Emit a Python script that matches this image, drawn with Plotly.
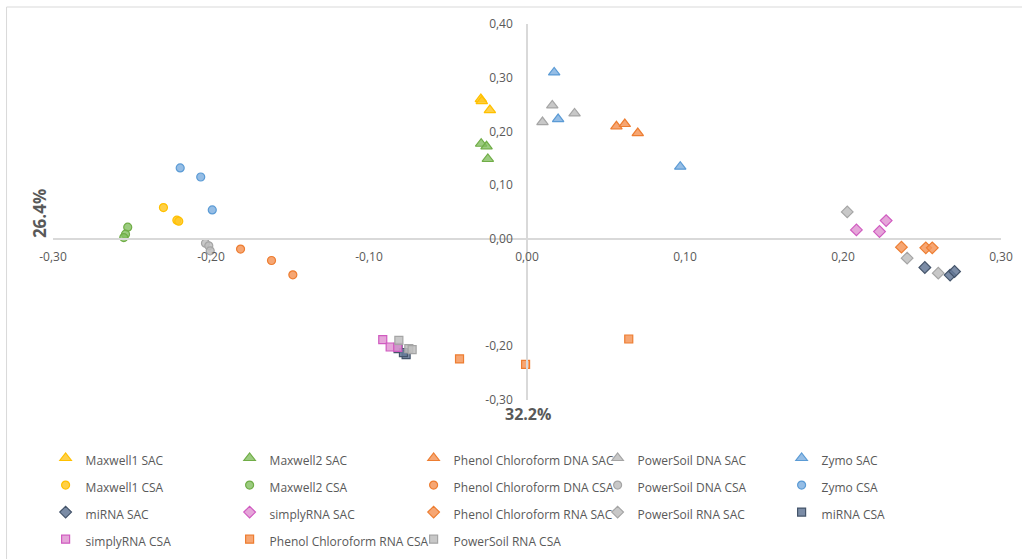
import plotly.graph_objects as go

# PCA scores (PC1, PC2) per extraction kit / sample type
series_names = [
    "Maxwell1 SAC", "Maxwell2 SAC", "Phenol Chloroform DNA SAC", "PowerSoil DNA SAC", "Zymo SAC",
    "Maxwell1 CSA", "Maxwell2 CSA", "Phenol Chloroform DNA CSA", "PowerSoil DNA CSA", "Zymo CSA",
    "miRNA SAC", "simplyRNA SAC", "Phenol Chloroform RNA SAC", "PowerSoil RNA SAC", "miRNA CSA",
    "simplyRNA CSA", "Phenol Chloroform RNA CSA", "PowerSoil RNA CSA",
]

maxwell1_sac_x = [-0.0292, -0.0286, -0.0235]
maxwell1_sac_y = [0.2602, 0.2565, 0.2398]
maxwell2_sac_x = [-0.0290, -0.0256, -0.0248]
maxwell2_sac_y = [0.1771, 0.1723, 0.1487]
pc_dna_sac_x = [0.0566, 0.0619, 0.0701]
pc_dna_sac_y = [0.2095, 0.2138, 0.1970]
powersoil_dna_sac_x = [0.0160, 0.0098, 0.0301]
powersoil_dna_sac_y = [0.2485, 0.2175, 0.2336]
zymo_sac_x = [0.0172, 0.0197, 0.0970]
zymo_sac_y = [0.3098, 0.2230, 0.1344]

maxwell1_csa_x = [-0.2301, -0.2216, -0.2204]
maxwell1_csa_y = [0.0582, 0.0348, 0.0329]
maxwell2_csa_x = [-0.2527, -0.2541, -0.2552]
maxwell2_csa_y = [0.0217, 0.0087, 0.0024]
pc_dna_csa_x = [-0.1813, -0.1617, -0.1482]
pc_dna_csa_y = [-0.0191, -0.0403, -0.0669]
powersoil_dna_csa_x = [-0.2035, -0.2014, -0.2005]
powersoil_dna_csa_y = [-0.0080, -0.0130, -0.0223]
zymo_csa_x = [-0.2195, -0.2065, -0.1992]
zymo_csa_y = [0.1320, 0.1152, 0.0539]

mirna_sac_x = [0.2518, 0.2678, 0.2706]
mirna_sac_y = [-0.0533, -0.0675, -0.0608]
simplyrna_sac_x = [0.2085, 0.2273, 0.2231]
simplyrna_sac_y = [0.0167, 0.0340, 0.0136]
pc_rna_sac_x = [0.2370, 0.2524, 0.2565]
pc_rna_sac_y = [-0.0154, -0.0167, -0.0167]
powersoil_rna_sac_x = [0.2027, 0.2406, 0.2603]
powersoil_rna_sac_y = [0.0502, -0.0359, -0.0638]
mirna_csa_x = [-0.0816, -0.0765, -0.0782]
mirna_csa_y = [-0.2045, -0.2156, -0.2119]

simplyrna_csa_x = [-0.0913, -0.0866, -0.0818]
simplyrna_csa_y = [-0.1877, -0.2013, -0.2020]
pc_rna_csa_x = [-0.0427, -0.0009, 0.0644]
pc_rna_csa_y = [-0.2236, -0.2336, -0.1864]
powersoil_rna_csa_x = [-0.0811, -0.0748, -0.0727]
powersoil_rna_csa_y = [-0.1890, -0.2045, -0.2063]

x_tick_vals = [-0.3, -0.2, -0.1, 0.0, 0.1, 0.2, 0.3]
x_tick_text = ["-0,30", "-0,20", "-0,10", "0,00", "0,10", "0,20", "0,30"]
y_tick_vals = [-0.3, -0.2, 0.0, 0.1, 0.2, 0.3, 0.4]
y_tick_text = ["-0,30", "-0,20", "0,00", "0,10", "0,20", "0,30", "0,40"]

x_label = "32.2%"
y_label = "26.4%"

# kit colours (line, fill)
YELLOW = ("#FFC000", "rgba(255,200,40,0.85)")
GREEN = ("#70AD47", "rgba(130,190,95,0.8)")
ORANGE = ("#ED7D31", "rgba(244,150,90,0.85)")
GRAY = ("#A5A5A5", "rgba(190,190,190,0.85)")
BLUE = ("#5B9BD5", "rgba(130,178,225,0.85)")
NAVY = ("#44546A", "rgba(100,120,150,0.85)")
PINK = ("#D05BC0", "rgba(225,150,210,0.85)")

series = [
    (maxwell1_sac_x, maxwell1_sac_y, YELLOW, "triangle-up", 10),
    (maxwell2_sac_x, maxwell2_sac_y, GREEN, "triangle-up", 10),
    (pc_dna_sac_x, pc_dna_sac_y, ORANGE, "triangle-up", 10),
    (powersoil_dna_sac_x, powersoil_dna_sac_y, GRAY, "triangle-up", 10),
    (zymo_sac_x, zymo_sac_y, BLUE, "triangle-up", 10),
    (maxwell1_csa_x, maxwell1_csa_y, YELLOW, "circle", 8),
    (maxwell2_csa_x, maxwell2_csa_y, GREEN, "circle", 8),
    (pc_dna_csa_x, pc_dna_csa_y, ORANGE, "circle", 8),
    (powersoil_dna_csa_x, powersoil_dna_csa_y, GRAY, "circle", 8),
    (zymo_csa_x, zymo_csa_y, BLUE, "circle", 8),
    (mirna_sac_x, mirna_sac_y, NAVY, "diamond", 9),
    (simplyrna_sac_x, simplyrna_sac_y, PINK, "diamond", 9),
    (pc_rna_sac_x, pc_rna_sac_y, ORANGE, "diamond", 9),
    (powersoil_rna_sac_x, powersoil_rna_sac_y, GRAY, "diamond", 9),
    (mirna_csa_x, mirna_csa_y, NAVY, "square", 8),
    (simplyrna_csa_x, simplyrna_csa_y, PINK, "square", 8),
    (pc_rna_csa_x, pc_rna_csa_y, ORANGE, "square", 8),
    (powersoil_rna_csa_x, powersoil_rna_csa_y, GRAY, "square", 8),
]

TEXT = "#595959"
AXIS = "#D9D9D9"
FONT = "Open Sans"

fig = go.Figure()
for name, (xs, ys, (line_c, fill_c), symbol, size) in zip(series_names, series):
    fig.add_trace(go.Scatter(
        x=xs, y=ys, mode="markers",
        name=f"<span style='font-size:12px'>{name}</span>",
        marker=dict(symbol=symbol, size=size, color=fill_c,
                    line=dict(color=line_c, width=1.2)),
    ))

fig.update_layout(
    width=1022, height=559,
    margin=dict(l=53, r=21, t=24, b=159, autoexpand=False),
    paper_bgcolor="white", plot_bgcolor="white",
    font=dict(family=FONT, color=TEXT, size=12),
    showlegend=True,
    legend=dict(
        orientation="h", x=-0.0078, xanchor="left", y=-0.105, yanchor="top",
        font=dict(size=18.5, color=TEXT, family=FONT),
        entrywidth=139, entrywidthmode="pixels",
        itemclick=False, itemdoubleclick=False,
    ),
    xaxis=dict(
        range=[-0.3, 0.3], anchor="free", position=0.3 / 0.7,
        showline=True, linecolor=AXIS, linewidth=1.5,
        showgrid=False, zeroline=False,
        tickvals=x_tick_vals, ticktext=x_tick_text,
        ticks="", ticklabelstandoff=7,
        tickfont=dict(size=12, color=TEXT, family=FONT),
    ),
    yaxis=dict(
        range=[-0.3, 0.4], anchor="free", position=0.5,
        showline=True, linecolor=AXIS, linewidth=1.5,
        showgrid=False, zeroline=False,
        tickvals=y_tick_vals, ticktext=y_tick_text,
        ticks="", ticklabelstandoff=11,
        tickfont=dict(size=12, color=TEXT, family=FONT),
    ),
    shapes=[dict(
        type="rect", xref="paper", yref="paper",
        x0=-0.049, x1=1.06, y0=-0.5, y1=1.0452,
        line=dict(color=AXIS, width=1), fillcolor="rgba(0,0,0,0)", layer="below",
    )],
    annotations=[
        dict(text=f"<b>{y_label}</b>", xref="paper", yref="paper",
             x=-0.0148, y=0.497, xanchor="center", yanchor="middle",
             showarrow=False, textangle=-90,
             font=dict(size=17, color=TEXT, family=FONT)),
        dict(text=f"<b>{x_label}</b>", xref="paper", yref="paper",
             x=0.501, y=-0.0372, xanchor="center", yanchor="middle",
             showarrow=False,
             font=dict(size=16, color=TEXT, family=FONT)),
    ],
)

fig.write_html("out.html")
